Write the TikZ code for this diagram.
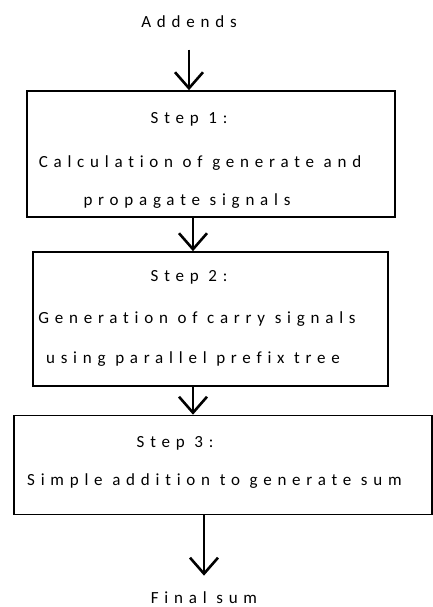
\documentclass[tikz,border=0pt]{standalone}
\usepackage{fontspec}
\setmainfont{Carlito}[LetterSpace=34,Ligatures=NoCommon]
\usetikzlibrary{arrows.meta}
\begin{document}
\begin{tikzpicture}[x=1pt,y=-1pt,font=\fontsize{17}{20}\selectfont,
  >={Straight Barb[length=16pt,width=28pt]}]
\useasboundingbox (0,0) rectangle (433,607);
\node[anchor=base] (addends) at (189,28) {Addends};

\node[draw,line width=1.6pt,minimum width=368pt,minimum height=126pt] (s1) at (211,154) {};
\node[anchor=base] (s1a) at (189,124) {Step 1:};
\node[anchor=base] (s1b) at (200,167) {Calculation of generate and};
\node[anchor=base] (s1c) at (187,205) {propagate signals};

\node[draw,line width=1.6pt,minimum width=355pt,minimum height=134pt] (s2) at (210.5,319) {};
\node[anchor=base] (s2a) at (189,281) {Step 2:};
\node[anchor=base] (s2b) at (197,323) {Generation of carry signals};
\node[anchor=base] (s2c) at (193,363) {using parallel prefix tree};

\node[draw,line width=1.6pt,minimum width=418pt,minimum height=99pt] (s3) at (223,465) {};
\node[anchor=base] (s3a) at (175,447) {Step 3:};
\node[anchor=base] (s3b) at (214.5,485) {Simple addition to generate sum};

\node[anchor=base] (final) at (204,603) {Final sum};

\path[draw,line width=2.6pt,->,shorten <=18pt] (addends) -- (addends |- s1.north);
\path[draw,line width=2.6pt,->] ([xshift=-18pt]s1.south) -- ([xshift=-17.5pt]s2.north);
\path[draw,line width=2.6pt,->] ([xshift=-17.5pt]s2.south) -- ([xshift=-30pt]s3.north);
\path[draw,line width=2.6pt,->,shorten >=12pt] ([xshift=-18pt]s3.south) -- (final |- s3.south) -- (final);
\end{tikzpicture}
\end{document}
